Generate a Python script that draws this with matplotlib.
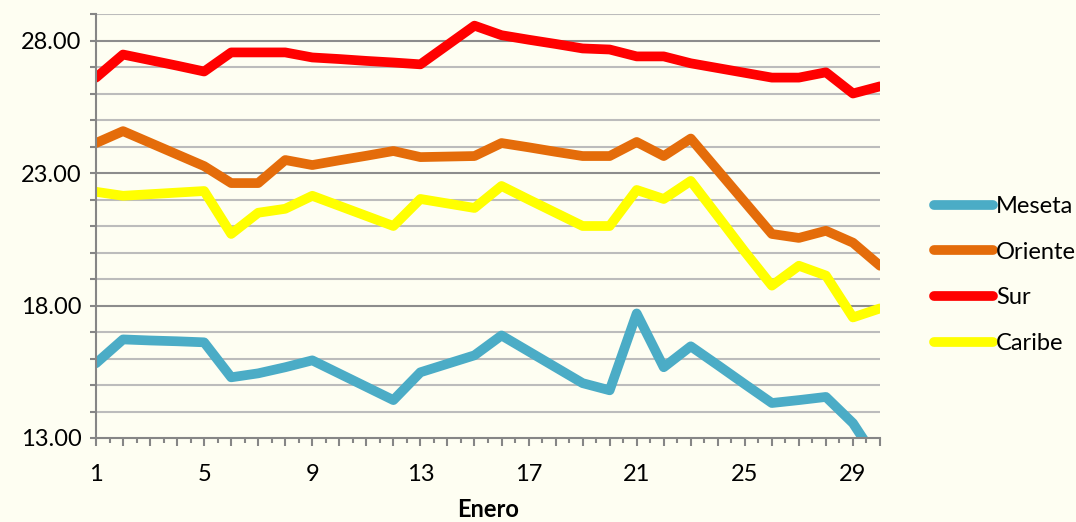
import matplotlib
matplotlib.use("Agg")
import matplotlib.pyplot as plt
from matplotlib.ticker import FixedLocator, FuncFormatter

plt.rcParams['font.family'] = ['Lato', 'DejaVu Sans']

# dias de enero
dias = list(range(1, 31))

meseta = [15.82, 16.72, 16.68, 16.65, 16.61, 15.29, 15.44, 15.67, 15.93, 15.43,
          14.93, 14.43, 15.48, 15.80, 16.12, 16.87, 16.27, 15.67, 15.07, 14.80,
          17.70, 15.67, 16.46, 15.75, 15.03, 14.32, 14.43, 14.55, 13.56, 12.00]
oriente = [24.13, 24.58, 24.14, 23.70, 23.26, 22.62, 22.62, 23.49, 23.30, 23.48,
           23.65, 23.83, 23.60, 23.62, 23.64, 24.13, 23.97, 23.80, 23.64, 23.64,
           24.17, 23.64, 24.30, 23.10, 21.90, 20.70, 20.55, 20.82, 20.37, 19.50]
sur = [26.60, 27.47, 27.26, 27.05, 26.83, 27.55, 27.55, 27.55, 27.36, 27.30,
       27.23, 27.17, 27.10, 27.83, 28.56, 28.20, 28.03, 27.87, 27.70, 27.66,
       27.40, 27.40, 27.14, 26.96, 26.78, 26.60, 26.60, 26.80, 26.00, 26.27]
caribe = [22.29, 22.14, 22.20, 22.26, 22.32, 20.70, 21.50, 21.65, 22.14, 21.76,
          21.38, 21.00, 22.02, 21.85, 21.68, 22.51, 22.00, 21.50, 21.00, 21.00,
          22.36, 22.02, 22.70, 21.37, 20.03, 18.75, 19.50, 19.13, 17.55, 17.89]

series = [("Meseta", meseta, "#4bacc6"),
          ("Oriente", oriente, "#e46c0a"),
          ("Sur", sur, "#ff0000"),
          ("Caribe", caribe, "#ffff00")]

bg = "#fefef2"
fig = plt.figure(figsize=(10.76, 5.22), dpi=100, facecolor=bg)
ax = fig.add_axes([96/1076, 1-438/522, (880-96)/1076, (438-14)/522])
ax.set_facecolor(bg)

for nombre, vals, color in series:
    ax.plot(dias, vals, color=color, lw=7, label=nombre,
            solid_joinstyle='round', solid_capstyle='round')

ax.set_xlim(1, 30)
ax.set_ylim(13, 29)

# rejilla horizontal
for v in range(14, 30):
    c = "#8c8c8c" if (v - 13) % 5 == 0 else "#bcbcbc"
    ax.axhline(v, color=c, lw=1.5, zorder=0)

ax.yaxis.set_major_locator(FixedLocator([13, 18, 23, 28]))
ax.yaxis.set_minor_locator(FixedLocator(range(13, 30)))
ax.yaxis.set_major_formatter(FuncFormatter(lambda v, p: f"{v:.2f}"))
ax.tick_params(axis='y', which='both', length=4.5, width=1.5, color="#868686",
               labelsize=17, pad=6)

ax.xaxis.set_major_locator(FixedLocator(dias))
ax.xaxis.set_minor_locator(FixedLocator([d + 0.5 for d in dias[:-1]]))
ax.xaxis.set_major_formatter(FuncFormatter(lambda v, p: str(int(v)) if (int(v) - 1) % 4 == 0 else ""))
ax.tick_params(axis='x', which='major', length=6, width=1.5, color="#868686",
               labelsize=17, pad=13)
ax.tick_params(axis='x', which='minor', length=3.5, width=1.5, color="#868686")

for s in ['top', 'right']:
    ax.spines[s].set_visible(False)
for s in ['left', 'bottom']:
    ax.spines[s].set_color("#868686")
    ax.spines[s].set_linewidth(1.5)

ax.set_xlabel("Enero", fontsize=17, fontweight='bold', labelpad=9)

leg = fig.legend(loc='center left', bbox_to_anchor=(925/1076, 1-275/522),
                 frameon=False, fontsize=17, handlelength=2.5, handletextpad=0.1,
                 labelspacing=1.05, borderaxespad=0)

plt.savefig("out.png", dpi=100, facecolor=bg)
